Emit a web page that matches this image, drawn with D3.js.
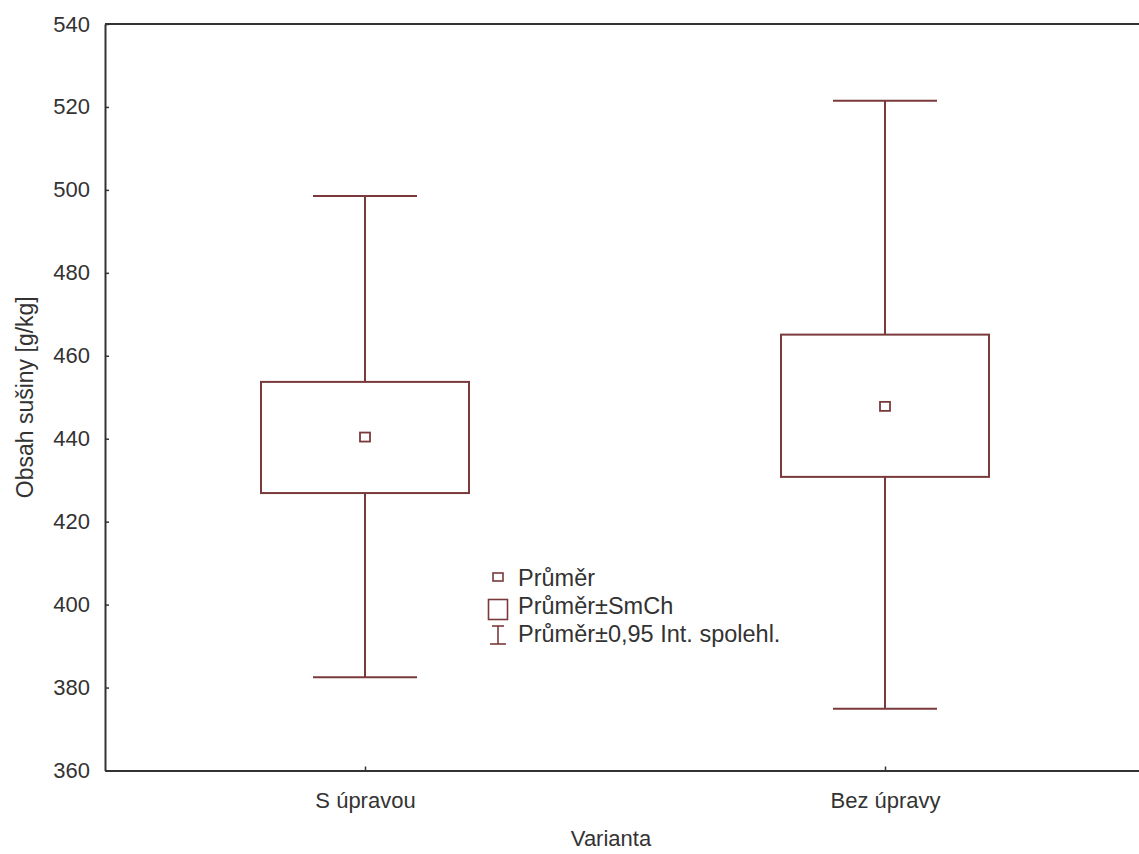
<!DOCTYPE html>
<html>
<head>
<meta charset="utf-8">
<script src="https://cdn.jsdelivr.net/npm/d3@7"></script>
<style>
  body { margin: 0; background: #fff; }
  text { font-family: "Liberation Sans", Arial, sans-serif; fill: #333; }
</style>
</head>
<body>
<script>
// data
let categories = ["S úpravou", "Bez úpravy"];
let means = [440.4, 447.8];
let seLow = [426.9, 430.8];
let seHigh = [453.7, 465.1];
let ciLow = [382.5, 374.9];
let ciHigh = [498.5, 521.5];
let yTicks = [360, 380, 400, 420, 440, 460, 480, 500, 520, 540];
let legendLabels = ["Průměr", "Průměr±SmCh", "Průměr±0,95 Int. spolehl."];

let boxColor = "#7a3a3c";
let axisColor = "#333";

var svg = d3.select('body').append('svg')
    .attr('width', 1139)
    .attr('height', 854);

let plotLeft = 105, plotRight = 1145, plotTop = 24, plotBottom = 770.5;

var xScale = d3.scalePoint()
    .domain(categories)
    .range([plotLeft, plotRight])
    .padding(0.5);
var yScale = d3.scaleLinear()
    .domain([360, 540])
    .range([plotBottom, plotTop]);
let step = xScale.step();

// frame (top line)
svg.append('line')
    .attr('x1', plotLeft).attr('x2', plotRight)
    .attr('y1', plotTop).attr('y2', plotTop)
    .attr('stroke', axisColor).attr('stroke-width', 2);

// y axis, ticks pointing inward
var yAxis = d3.axisLeft(yScale)
    .tickValues(yTicks)
    .tickSizeInner(-4)
    .tickSizeOuter(0)
    .tickPadding(15);
let gy = svg.append('g')
    .attr('transform', 'translate(' + plotLeft + ',0)')
    .call(yAxis);
gy.select('.domain').attr('stroke', axisColor).attr('stroke-width', 2);
gy.selectAll('.tick line').attr('stroke', axisColor).attr('stroke-width', 1.5);
gy.selectAll('.tick text')
    .attr('font-size', 22)
    .attr('fill', '#333')
    .attr('x', -15);

// x axis, ticks pointing inward
var xAxis = d3.axisBottom(xScale)
    .tickSizeInner(-4)
    .tickSizeOuter(0)
    .tickPadding(0);
let gx = svg.append('g')
    .attr('transform', 'translate(0,' + plotBottom + ')')
    .call(xAxis);
gx.select('.domain').attr('stroke', axisColor).attr('stroke-width', 2);
gx.selectAll('.tick line').attr('stroke', axisColor).attr('stroke-width', 1.5);
gx.selectAll('.tick text')
    .attr('font-size', 22)
    .attr('fill', '#333')
    .attr('dy', 0)
    .attr('y', 37);

// axis titles
svg.append('text')
    .attr('x', 611)
    .attr('y', 846)
    .attr('text-anchor', 'middle')
    .attr('font-size', 22)
    .text('Varianta');
svg.append('text')
    .attr('transform', 'translate(33,' + ((plotTop + plotBottom) / 2) + ') rotate(-90)')
    .attr('text-anchor', 'middle')
    .attr('font-size', 23)
    .text('Obsah sušiny [g/kg]');

// boxes and whiskers
let marks = svg.append('g').attr('class', 'marks');
for (let i = 0; i < categories.length; ++i) {
    let cx = xScale(categories[i]);
    let bw = step * 0.4;
    let cw = step * 0.2;
    // whisker vertical lines
    marks.append('line')
        .attr('x1', cx).attr('x2', cx)
        .attr('y1', yScale(ciHigh[i])).attr('y2', yScale(seHigh[i]))
        .attr('stroke', boxColor).attr('stroke-width', 2);
    marks.append('line')
        .attr('x1', cx).attr('x2', cx)
        .attr('y1', yScale(seLow[i])).attr('y2', yScale(ciLow[i]))
        .attr('stroke', boxColor).attr('stroke-width', 2);
    // caps
    marks.append('line')
        .attr('x1', cx - cw / 2).attr('x2', cx + cw / 2)
        .attr('y1', yScale(ciHigh[i])).attr('y2', yScale(ciHigh[i]))
        .attr('stroke', boxColor).attr('stroke-width', 2);
    marks.append('line')
        .attr('x1', cx - cw / 2).attr('x2', cx + cw / 2)
        .attr('y1', yScale(ciLow[i])).attr('y2', yScale(ciLow[i]))
        .attr('stroke', boxColor).attr('stroke-width', 2);
    // box (mean +- SE)
    marks.append('rect')
        .attr('x', cx - bw / 2)
        .attr('y', yScale(seHigh[i]))
        .attr('width', bw)
        .attr('height', yScale(seLow[i]) - yScale(seHigh[i]))
        .attr('fill', 'none')
        .attr('stroke', boxColor).attr('stroke-width', 2);
    // mean marker
    marks.append('rect')
        .attr('x', cx - 5)
        .attr('y', yScale(means[i]) - 4.5)
        .attr('width', 10)
        .attr('height', 9)
        .attr('fill', 'none')
        .attr('stroke', boxColor).attr('stroke-width', 1.8);
}

// legend
let legend = svg.append('g').attr('transform', 'translate(498,0)');
legend.append('rect')
    .attr('x', -5).attr('y', 573)
    .attr('width', 10).attr('height', 8)
    .attr('fill', 'none').attr('stroke', boxColor).attr('stroke-width', 1.6);
legend.append('rect')
    .attr('x', -9.5).attr('y', 599.5)
    .attr('width', 19).attr('height', 20)
    .attr('fill', 'none').attr('stroke', boxColor).attr('stroke-width', 1.6);
legend.append('line')
    .attr('x1', 0).attr('x2', 0).attr('y1', 626).attr('y2', 644)
    .attr('stroke', boxColor).attr('stroke-width', 1.6);
legend.append('line')
    .attr('x1', -6).attr('x2', 6).attr('y1', 626).attr('y2', 626)
    .attr('stroke', boxColor).attr('stroke-width', 1.6);
legend.append('line')
    .attr('x1', -8).attr('x2', 8).attr('y1', 644).attr('y2', 644)
    .attr('stroke', boxColor).attr('stroke-width', 1.6);
let legendY = [586, 614, 642];
for (let i = 0; i < legendLabels.length; ++i) {
    legend.append('text')
        .attr('x', 20)
        .attr('y', legendY[i])
        .attr('font-size', 23.5)
        .text(legendLabels[i]);
}
</script>
</body>
</html>
